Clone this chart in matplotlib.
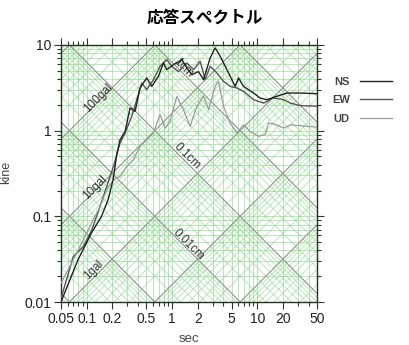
import numpy as np
import matplotlib
matplotlib.use("Agg")
import matplotlib.pyplot as plt
from matplotlib.ticker import FixedLocator, NullFormatter

plt.rcParams['font.family'] = ['Liberation Sans', 'Noto Sans CJK JP', 'DejaVu Sans']

# 応答スペクトル (period sec, velocity kine)
ns_t = [0.05, 0.079, 0.1135, 0.149, 0.178, 0.204, 0.225, 0.246, 0.282, 0.322, 0.369, 0.422,
        0.506, 0.579, 0.693, 0.794, 0.869, 1.04, 1.30, 1.49, 1.71, 2.04, 2.34, 2.80, 3.20,
        3.67, 4.20, 4.81, 5.5, 6.01, 6.88, 7.9, 9.03, 10.8, 12.9, 16.9, 22.2, 31.8, 50]
ns_v = [0.01, 0.031, 0.0637, 0.0997, 0.156, 0.267, 0.524, 0.785, 0.98, 1.84, 1.68, 3.15,
        4.13, 3.29, 4.31, 6.18, 5.16, 5.9, 6.76, 5.4, 4.5, 4.9, 3.94, 7.07, 9.25,
        7.4, 5.64, 4.31, 3.29, 4.13, 3.29, 3.0, 2.75, 2.4, 2.3, 2.52, 2.75, 2.75, 2.7]

ew_t = [0.05, 0.0697, 0.0914, 0.115, 0.143, 0.172, 0.206, 0.246, 0.282, 0.337, 0.386, 0.442,
        0.506, 0.605, 0.725, 0.869, 0.993, 1.19, 1.49, 1.79, 2.14, 2.44, 2.80, 3.35, 4.01,
        4.81, 5.75, 6.88, 9.03, 11.8, 15.5, 20.3, 24.3, 31.8, 50]
ew_v = [0.011, 0.034, 0.0445, 0.0697, 0.13, 0.224, 0.383, 0.718, 0.94, 1.47, 2.3, 3.6,
        3.01, 3.94, 5.64, 6.76, 5.64, 4.9, 6.18, 5.16, 6.45, 3.94, 5.64, 4.72, 3.77,
        3.29, 3.15, 2.88, 2.3, 2.1, 2.41, 2.3, 2.1, 1.96, 1.93]

ud_t = [0.05, 0.0764, 0.1, 0.1197, 0.143, 0.172, 0.206, 0.246, 0.295, 0.353, 0.422, 0.506,
        0.605, 0.725, 0.83, 0.95, 1.14, 1.36, 1.63, 1.95, 2.34, 2.68, 3.20, 3.51, 4.01,
        4.81, 5.75, 6.88, 8.24, 10.3, 12.4, 13.5, 16.9, 20.3, 24.3, 31.8, 50]
ud_v = [0.0166, 0.0372, 0.064, 0.0914, 0.13, 0.204, 0.267, 0.292, 0.383, 0.458, 0.656, 0.785,
        0.94, 1.54, 1.07, 1.29, 2.52, 1.76, 1.12, 1.92, 2.52, 1.76, 3.29, 3.77, 1.92,
        1.23, 0.94, 1.17, 0.98, 0.86, 0.9, 1.23, 1.17, 1.07, 1.17, 1.14, 1.1]

x_ticks = [0.05, 0.1, 0.2, 0.5, 1, 2, 5, 10, 20, 50]
x_labels = ['0.05', '0.1', '0.2', '0.5', '1', '2', '5', '10', '20', '50']
y_ticks = [0.01, 0.1, 1, 10]
y_labels = ['0.01', '0.1', '1', '10']

disp_labels = [(1.36, 5.4, '1cm'), (1.49, 0.5, '0.1cm'), (1.57, 0.0466, '0.01cm')]
acc_labels = [(0.137, 2.41, '100gal'), (0.125, 0.214, '10gal'), (0.12, 0.0237, '1gal')]

fig = plt.figure(figsize=(4.09, 3.45), dpi=100)
ax = fig.add_axes([61 / 409, 1 - 302 / 345, 256 / 409, 257 / 345])
ax.set_xscale('log')
ax.set_yscale('log')
tmin, tmax = 0.05, 50
vmin, vmax = 0.01, 10

green = '#86d686'
tt = np.array([tmin, tmax])
minor_vals = [k * 10.0 ** n for n in range(-6, 4) for k in range(1, 10)]

# horizontal / vertical grid
for t in minor_vals:
    if tmin < t < tmax:
        ax.axvline(t, color=green, lw=0.6, alpha=0.65, zorder=1)
for v in minor_vals:
    if vmin < v < vmax:
        ax.axhline(v, color=green, lw=0.6, alpha=0.65, zorder=1)

# diagonal grid: displacement (cm) and acceleration (gal)
for n in range(-6, 4):
    for k in range(1, 10):
        d = k * 10.0 ** n
        if k == 1:
            kw = dict(color='#909090', lw=0.8, zorder=2)
        else:
            kw = dict(color=green, lw=0.6, alpha=0.65, zorder=1)
        ax.plot(tt, 2 * np.pi * d / tt, **kw)
        ax.plot(tt, d * tt / (2 * np.pi), **kw)

for x, y, s in disp_labels:
    ax.text(x, y, s, rotation=-45, ha='center', va='center', fontsize=8.5, color='#333333', zorder=3)
for x, y, s in acc_labels:
    ax.text(x, y, s, rotation=45, ha='center', va='center', fontsize=8.5, color='#333333', zorder=3)

ax.plot(ns_t, ns_v, color='#222222', lw=1.0, label='NS', zorder=5)
ax.plot(ew_t, ew_v, color='#555555', lw=1.0, label='EW', zorder=4)
ax.plot(ud_t, ud_v, color='#9a9a9a', lw=0.9, label='UD', zorder=4)

ax.set_xlim(tmin, tmax)
ax.set_ylim(vmin, vmax)
ax.xaxis.set_major_locator(FixedLocator(x_ticks))
ax.set_xticklabels(x_labels)
ax.yaxis.set_major_locator(FixedLocator(y_ticks))
ax.set_yticklabels(y_labels)
ax.xaxis.set_minor_locator(FixedLocator([v for v in minor_vals if tmin <= v <= tmax]))
ax.yaxis.set_minor_locator(FixedLocator([v for v in minor_vals if vmin <= v <= vmax]))
ax.xaxis.set_minor_formatter(NullFormatter())
ax.yaxis.set_minor_formatter(NullFormatter())
ax.tick_params(which='both', direction='out', top=True, right=True, color='#333333', width=0.8)
ax.tick_params(which='major', length=5, labelsize=10, pad=2, labelcolor='#222222')
ax.tick_params(which='minor', length=3)
for sp in ax.spines.values():
    sp.set_color('#223322')
    sp.set_linewidth(1.0)

ax.set_xlabel('sec', fontsize=9.5, color='#444444', labelpad=5)
fig.text(6 / 409, 0.5, 'kine', rotation=90, ha='center', va='center', fontsize=9, color='#444444')

fig.text(0.5, 1 - 18 / 345, '応答スペクトル', ha='center', va='center', fontsize=12,
         fontweight='bold', family=['Noto Sans CJK JP', 'DejaVu Sans'])

leg = ax.legend(loc='upper left', bbox_to_anchor=(332 / 409, 1 - 77 / 345), bbox_transform=fig.transFigure,
                frameon=False, markerfirst=False, fontsize=8, handlelength=2.9, labelspacing=0.75,
                handletextpad=0.9, borderaxespad=0, borderpad=0)
for txt in leg.get_texts():
    txt.set_fontweight('bold')
    txt.set_color('#444444')

fig.savefig('out.png', dpi=100)
